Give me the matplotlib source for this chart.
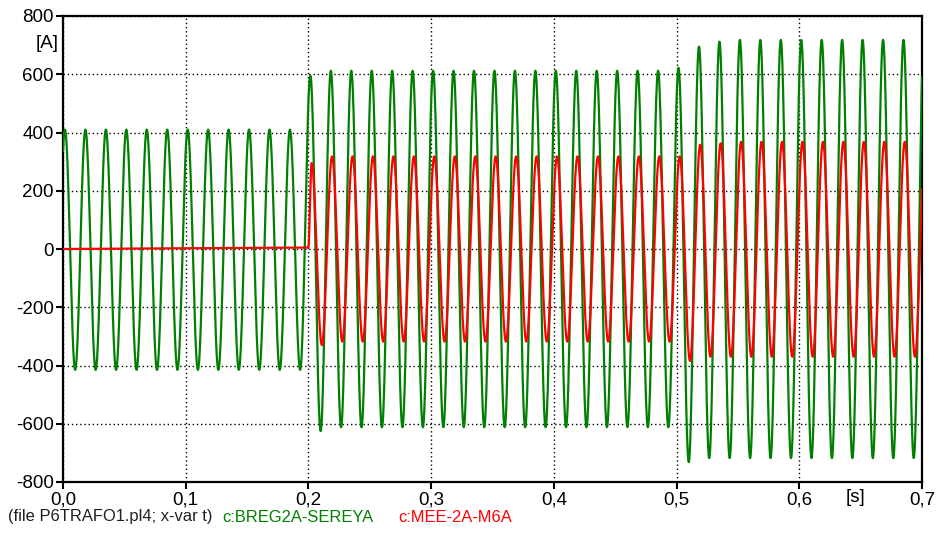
import numpy as np
import matplotlib
matplotlib.use('Agg')
import matplotlib.pyplot as plt

plt.rcParams['font.family'] = ['Liberation Sans', 'DejaVu Sans']
plt.rcParams['axes.unicode_minus'] = False

# ============================================================
# Data (60 Hz currents, extrema per cycle)
# ============================================================
FREQ      = 60.0
T_PEAK0   = 0.0016      # time of first green peak [s]
RED_LAG   = 0.0010      # red lags green slightly [s]

# green: peak value of cycle k (k = 0..42) and trough value of cycle k (k = -1..41)
GREEN_PEAKS   = [410] * 12 + [595] + [612] * 17 + [622, 695, 712] + [718] * 10
GREEN_TROUGHS = [-415] * 13 + [-625] + [-612] * 17 + [-732] + [-718] * 11

# red: flat before switching, then peaks (k = 12..42) and troughs (k = 12..41)
RED_PRE_T     = [0.0, 0.1999]
RED_PRE_V     = [0.0, 5.0]
RED_FIRST_K   = 12
RED_PEAKS     = [295] + [318] * 18 + [358, 363] + [368] * 10
RED_TROUGHS   = [-330] + [-318] * 17 + [-384] + [-370] * 11

Y_TICKS   = [-800, -600, -400, -200, 0, 200, 400, 600, 800]
X_TICKS   = [0.0, 0.1, 0.2, 0.3, 0.4, 0.5, 0.6, 0.7]
X_LABELS  = ['0,0', '0,1', '0,2', '0,3', '0,4', '0,5', '0,6', '0,7']

T_END = 0.7


def half_cos(te, ve, t):
    # smooth half-cosine path through successive extrema
    te = np.asarray(te)
    ve = np.asarray(ve, dtype=float)
    i = np.clip(np.searchsorted(te, t, side='right') - 1, 0, len(te) - 2)
    frac = (t - te[i]) / (te[i + 1] - te[i])
    return ve[i] + (ve[i + 1] - ve[i]) * (1 - np.cos(np.pi * frac)) / 2


# green extrema sequence
g_t, g_v = [], []
g_t.append(T_PEAK0 - 0.5 / FREQ)
g_v.append(GREEN_TROUGHS[0])
for k, pk in enumerate(GREEN_PEAKS):
    g_t.append(T_PEAK0 + k / FREQ)
    g_v.append(pk)
    if k + 1 < len(GREEN_TROUGHS):
        g_t.append(T_PEAK0 + (k + 0.5) / FREQ)
        g_v.append(GREEN_TROUGHS[k + 1])

t = np.arange(0, T_END + 1e-9, 0.0002)
green = half_cos(g_t, g_v, t)

# red extrema sequence (starts at switching instant)
r_t, r_v = [RED_PRE_T[-1]], [RED_PRE_V[-1]]
for j, pk in enumerate(RED_PEAKS):
    k = RED_FIRST_K + j
    r_t.append(T_PEAK0 + RED_LAG + k / FREQ)
    r_v.append(pk)
    if j < len(RED_TROUGHS):
        r_t.append(T_PEAK0 + RED_LAG + (k + 0.5) / FREQ)
        r_v.append(RED_TROUGHS[j])

t_red = t[t > RED_PRE_T[-1]]
red_t = np.concatenate([RED_PRE_T, t_red])
red_v = np.concatenate([RED_PRE_V, half_cos(r_t, r_v, t_red)])

# ============================================================
# Plot
# ============================================================
fig = plt.figure(figsize=(9.37, 5.40), dpi=100)
ax = fig.add_axes([63 / 937, 1 - 482 / 540, (922 - 63) / 937, (482 - 16) / 540])

ax.plot(t, green, color='#008000', linewidth=1.6, zorder=3)
ax.plot(red_t, red_v, color='#ff0000', linewidth=1.6, zorder=4)

ax.set_xlim(0, T_END)
ax.set_ylim(-800, 800)
ax.set_xticks(X_TICKS)
ax.set_xticklabels(X_LABELS)
ax.set_yticks(Y_TICKS)
ax.set_yticklabels([str(v) for v in Y_TICKS])
ax.tick_params(direction='out', length=5, width=1.5, labelsize=13.5, pad=1.5,
               colors='black')
ax.grid(True, color='black', linestyle=(0, (1, 2)), linewidth=1.0, zorder=1)
for s in ax.spines.values():
    s.set_linewidth(1.6)
    s.set_color('black')

fig.text(47 / 937, 1 - 43 / 540, '[A]', fontsize=13.5, ha='center', va='center')
fig.text(856 / 937, 1 - 497 / 540, '[s]', fontsize=13.5, ha='center', va='center')

fig.text(8 / 937, 1 - 517 / 540, '(file P6TRAFO1.pl4; x-var t)', fontsize=11.9,
         ha='left', va='center', color='#202020')
fig.text(222 / 937, 1 - 517 / 540, 'c:BREG2A-SEREYA', fontsize=11.9,
         ha='left', va='center', color='#008000')
fig.text(398 / 937, 1 - 517 / 540, 'c:MEE-2A-M6A', fontsize=11.9,
         ha='left', va='center', color='#ff0000')

plt.savefig('out.png', dpi=100)
